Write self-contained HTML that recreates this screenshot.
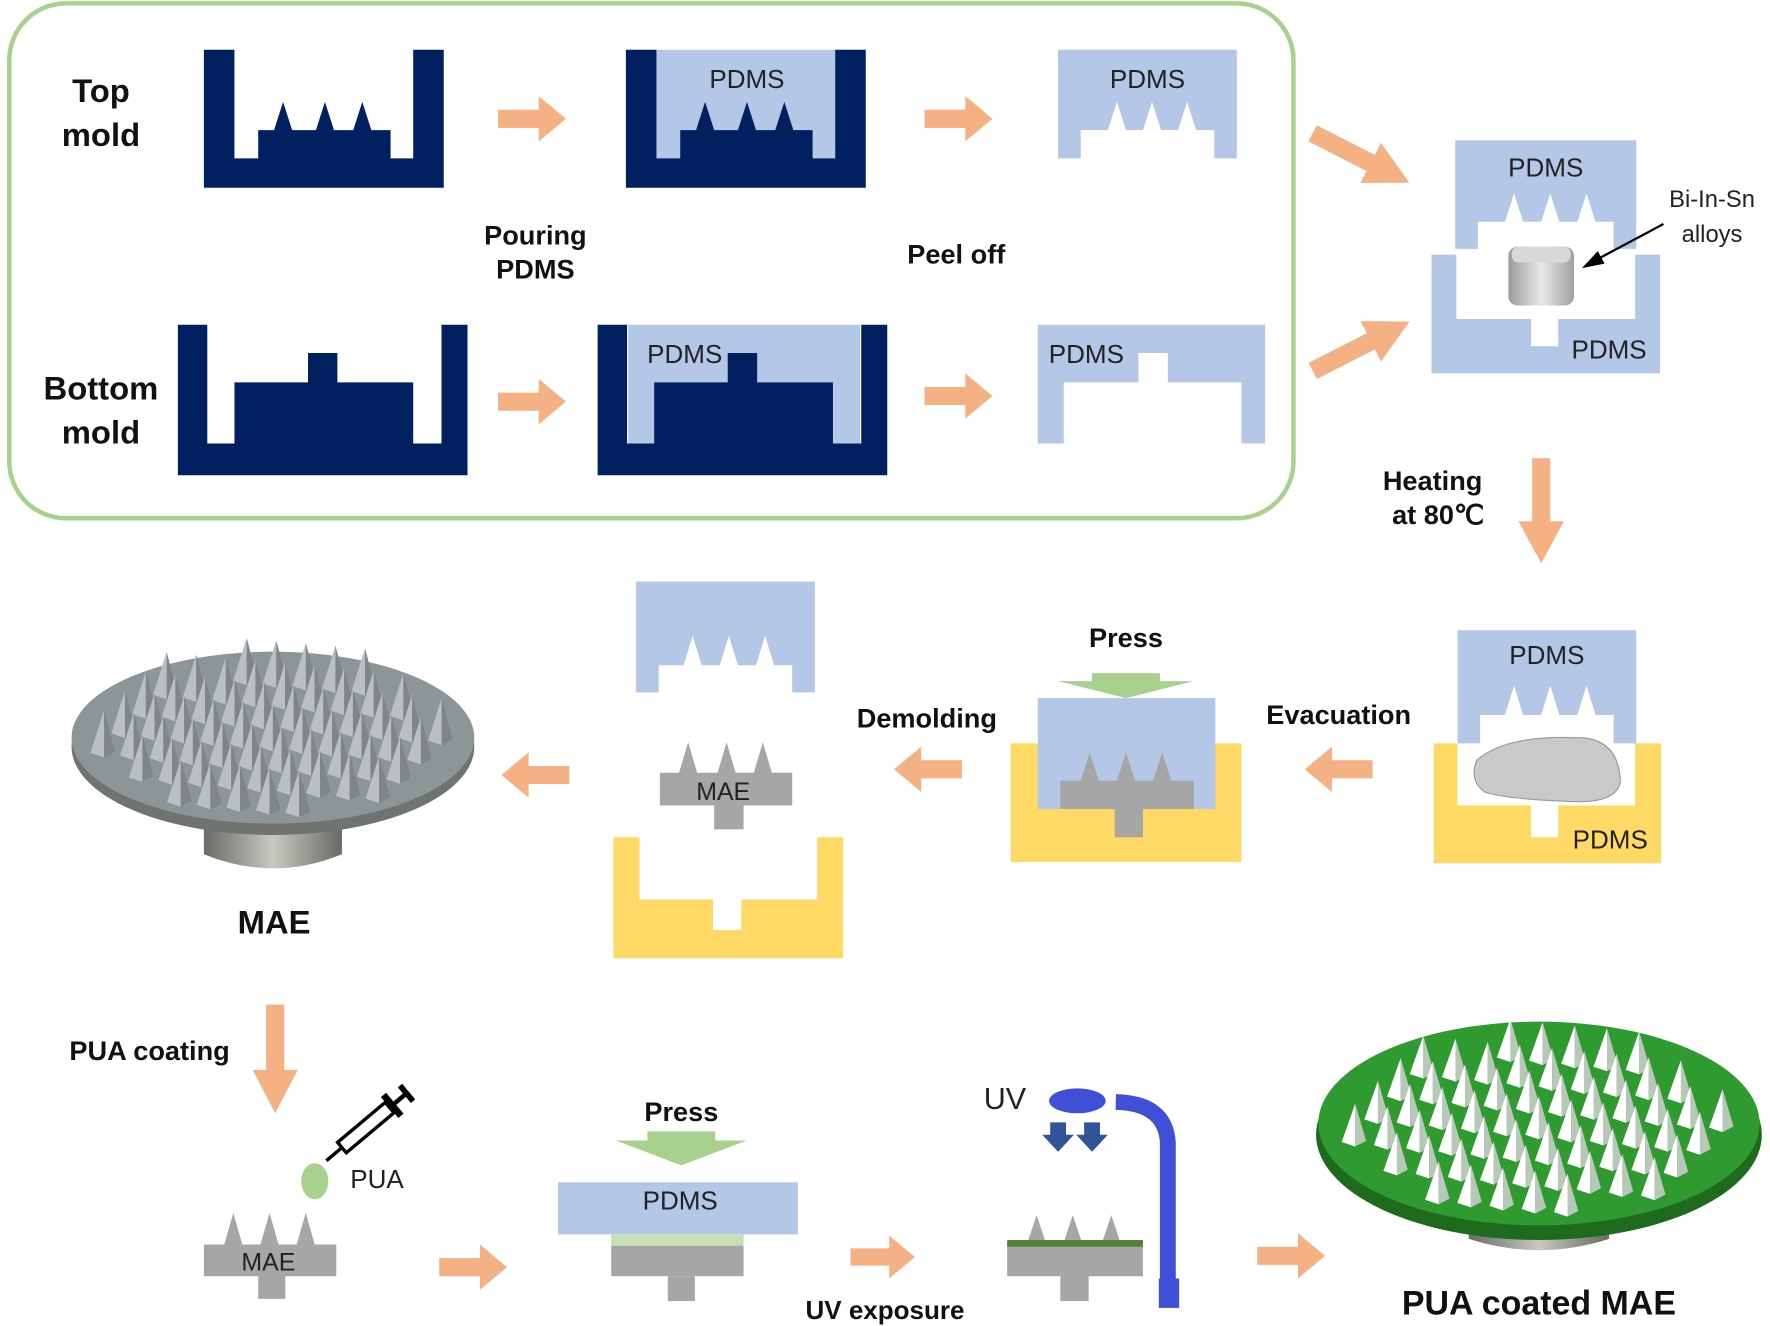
<!DOCTYPE html>
<html><head><meta charset="utf-8"><style>
html,body{margin:0;padding:0;background:#fff;}
svg{display:block;}
text{font-family:"Liberation Sans",sans-serif;}
.b{font-weight:bold;fill:#111;}
.p{fill:#222;font-size:23px;}
</style></head><body>
<svg id="s" width="1770" height="1326" viewBox="0 0 1564 1172" xmlns="http://www.w3.org/2000/svg">
<defs>
<symbol id="ar" viewBox="0 0 60 40" overflow="visible"><polygon points="0,12 36,12 36,0 60,20 36,40 36,28 0,28" fill="#f4b183"/></symbol>
<linearGradient id="cube" x1="0" x2="1"><stop offset="0" stop-color="#9a9a9a"/><stop offset="0.5" stop-color="#e8e8e8"/><stop offset="1" stop-color="#a0a0a0"/></linearGradient>
<linearGradient id="cyl" x1="0" x2="1"><stop offset="0" stop-color="#6a6a66"/><stop offset="0.5" stop-color="#c8c8c0"/><stop offset="1" stop-color="#6a6a66"/></linearGradient>
</defs>
<rect x="8" y="3" width="1135" height="455" rx="50" fill="none" stroke="#a9d18e" stroke-width="4"/>
<polygon fill="#002060" points="180,44 207,44 207,140 228,140 228,115 242,115 250,90 258,115 279,115 287,90 295,115 312,115 320,90 328,115 345,115 345,140 365,140 365,44 392,44 392,166 180,166"/>
<rect x="580" y="44" width="158" height="96" fill="#b4c7e7"/>
<polygon transform="translate(373,0)" fill="#002060" points="180,44 207,44 207,140 228,140 228,115 242,115 250,90 258,115 279,115 287,90 295,115 312,115 320,90 328,115 345,115 345,140 365,140 365,44 392,44 392,166 180,166"/>
<polygon fill="#b4c7e7" points="935,44 1093,44 1093,140 1073,140 1073,115 1057,115 1049,90 1041,115 1026,115 1018,90 1010,115 995,115 987,90 979,115 955,115 955,140 935,140"/>
<text x="660" y="78" class="p" text-anchor="middle">PDMS</text>
<text x="1014" y="78" class="p" text-anchor="middle">PDMS</text>
<polygon fill="#002060" points="157,287 183,287 183,392 207,392 207,338 272,338 272,312 298,312 298,338 365,338 365,392 390,392 390,287 413,287 413,420 157,420"/>
<rect x="555" y="287" width="205" height="105" fill="#b4c7e7"/>
<polygon transform="translate(371,0)" fill="#002060" points="157,287 183,287 183,392 207,392 207,338 272,338 272,312 298,312 298,338 365,338 365,392 390,392 390,287 413,287 413,420 157,420"/>
<polygon fill="#b4c7e7" points="917,287 1118,287 1118,392 1097,392 1097,338 1032,338 1032,312 1006,312 1006,338 940,338 940,392 917,392"/>
<text x="605" y="321" class="p" text-anchor="middle">PDMS</text>
<text x="960" y="321" class="p" text-anchor="middle">PDMS</text>
<text x="89" y="90" class="b" font-size="29" text-anchor="middle">Top</text>
<text x="89" y="129" class="b" font-size="29" text-anchor="middle">mold</text>
<text x="89" y="353" class="b" font-size="29" text-anchor="middle">Bottom</text>
<text x="89" y="392" class="b" font-size="29" text-anchor="middle">mold</text>
<text x="473" y="216" class="b" font-size="24" text-anchor="middle">Pouring</text>
<text x="473" y="246" class="b" font-size="24" text-anchor="middle">PDMS</text>
<text x="845" y="233" class="b" font-size="24" text-anchor="middle">Peel off</text>
<use href="#ar" x="440" y="85" width="60" height="40"/>
<use href="#ar" x="817" y="85" width="60" height="40"/>
<use href="#ar" x="440" y="335" width="60" height="40"/>
<use href="#ar" x="817" y="330" width="60" height="40"/>
<use href="#ar" x="0" y="0" width="60" height="40" transform="translate(1169,100) rotate(27) scale(1.6,1)"/>
<use href="#ar" x="0" y="0" width="60" height="40" transform="translate(1151,310) rotate(-27) scale(1.6,1)"/>
<polygon fill="#b4c7e7" points="1286,124 1446,124 1446,220 1426,220 1426,196 1410,196 1402,171 1394,196 1378,196 1370,171 1362,196 1346,196 1338,171 1330,196 1306,196 1306,220 1286,220"/>
<polygon fill="#b4c7e7" points="1265,225 1287,225 1287,282 1353,282 1353,306 1377,306 1377,282 1445,282 1445,225 1467,225 1467,330 1265,330"/>
<rect x="1333" y="218" width="58" height="52" rx="8" fill="url(#cube)"/>
<rect x="1336" y="218" width="52" height="14" rx="6" fill="#d8d8d8"/>
<text x="1366" y="156" class="p" text-anchor="middle">PDMS</text>
<text x="1422" y="317" class="p" text-anchor="middle">PDMS</text>
<text x="1513" y="183" font-size="21" fill="#222" text-anchor="middle">Bi-In-Sn</text>
<text x="1513" y="214" font-size="21" fill="#222" text-anchor="middle">alloys</text>
<line x1="1470" y1="198" x2="1410" y2="230" stroke="#000" stroke-width="2"/>
<polygon points="1398,237 1412,222 1418,233" fill="#000"/>
<use href="#ar" x="0" y="0" width="60" height="40" transform="translate(1382,405) rotate(90) scale(1.55,1)"/>
<text x="1266" y="433" class="b" font-size="24" text-anchor="middle">Heating</text>
<text x="1271" y="463" class="b" font-size="24" text-anchor="middle">at 80℃</text>
<polygon fill="#b4c7e7" points="1288,557 1446,557 1446,657 1426,657 1426,632 1410,632 1402,606 1394,632 1378,632 1370,606 1362,632 1346,632 1338,606 1330,632 1308,632 1308,657 1288,657"/>
<polygon fill="#ffd966" points="1267,657 1288,657 1288,712 1353,712 1353,740 1377,740 1377,712 1445,712 1445,657 1468,657 1468,763 1267,763"/>
<path d="M1305,672 Q1330,650 1390,652 Q1430,650 1432,690 Q1430,712 1380,708 Q1330,706 1312,700 Q1298,690 1305,672Z" fill="#c9c9c9" stroke="#999"/>
<text x="1367" y="587" class="p" text-anchor="middle">PDMS</text>
<text x="1423" y="750" class="p" text-anchor="middle">PDMS</text>
<use href="#ar" x="0" y="0" width="60" height="40" transform="translate(1213,700) rotate(180)"/>
<text x="1183" y="640" class="b" font-size="24" text-anchor="middle">Evacuation</text>
<rect x="893" y="657" width="204" height="105" fill="#ffd966"/>
<rect x="917" y="617" width="157" height="98" fill="#b4c7e7"/>
<polygon fill="#a6a6a6" points="937,715 937,690 955,690 963,665 971,690 987,690 995,665 1003,690 1019,690 1027,665 1035,690 1055,690 1055,715 1010,715 1010,740 985,740 985,715"/>
<polygon fill="#a9d18e" points="965,595 1025,595 1025,602 1055,602 995,617 935,602 965,602"/>
<text x="995" y="572" class="b" font-size="24" text-anchor="middle">Press</text>
<use href="#ar" x="0" y="0" width="60" height="40" transform="translate(850,700) rotate(180)"/>
<text x="819" y="643" class="b" font-size="24" text-anchor="middle">Demolding</text>
<polygon fill="#b4c7e7" points="562,514 720,514 720,612 700,612 700,588 684,588 676,562 668,588 652,588 644,562 636,588 620,588 612,562 604,588 582,588 582,612 562,612"/>
<polygon fill="#a6a6a6" points="583,712 583,683 600,683 608,656 616,683 634,683 642,656 650,683 666,683 674,656 682,683 700,683 700,712 657,712 657,733 631,733 631,712"/>
<text x="639" y="707" font-size="22" fill="#222" text-anchor="middle">MAE</text>
<polygon fill="#ffd966" points="542,740 565,740 565,795 630,795 630,822 655,822 655,795 722,795 722,740 745,740 745,847 542,847"/>
<use href="#ar" x="0" y="0" width="60" height="40" transform="translate(503,705) rotate(180)"/>
<path d="M180,720 L180,755 Q241,780 302,755 L302,720Z" fill="url(#cyl)"/>
<ellipse cx="241" cy="660" rx="178" ry="78" fill="#6f7470"/>
<ellipse cx="241" cy="652" rx="178" ry="76" fill="#8c9696"/>
<g id="g1"></g>
<text x="242" y="825" class="b" font-size="29" text-anchor="middle">MAE</text>
<use href="#ar" x="0" y="0" width="60" height="40" transform="translate(263,888) rotate(90) scale(1.6,1)"/>
<text x="132" y="937" class="b" font-size="24" text-anchor="middle">PUA coating</text>
<g transform="translate(325,995) rotate(-40)"><rect x="-30" y="-6" width="55" height="12" fill="#fff" stroke="#000" stroke-width="3"/><line x1="-30" y1="0" x2="-48" y2="0" stroke="#000" stroke-width="3"/><rect x="25" y="-12" width="6" height="24" fill="#000"/><line x1="31" y1="0" x2="44" y2="0" stroke="#000" stroke-width="4"/><rect x="42" y="-9" width="5" height="18" fill="#000"/></g>
<ellipse cx="278" cy="1044" rx="12" ry="16" fill="#a9d18e"/>
<text x="333" y="1050" font-size="23" fill="#222" text-anchor="middle">PUA</text>
<polygon fill="#a6a6a6" points="180,1128 180,1100 198,1100 206,1072 214,1100 230,1100 238,1072 246,1100 262,1100 270,1072 278,1100 297,1100 297,1128 252,1128 252,1148 228,1148 228,1128"/>
<text x="237" y="1123" font-size="22" fill="#222" text-anchor="middle">MAE</text>
<use href="#ar" x="388" y="1100" width="60" height="40"/>
<polygon fill="#a9d18e" points="572,1000 632,1000 632,1008 660,1008 602,1030 544,1008 572,1008"/>
<text x="602" y="991" class="b" font-size="24" text-anchor="middle">Press</text>
<rect x="493" y="1045" width="212" height="46" fill="#b4c7e7"/>
<text x="601" y="1069" class="p" text-anchor="middle">PDMS</text>
<rect x="540" y="1091" width="117" height="10" fill="#c5e0b4"/>
<rect x="540" y="1101" width="117" height="27" fill="#a6a6a6"/>
<rect x="590" y="1128" width="24" height="22" fill="#a6a6a6"/>
<use href="#ar" x="750" y="1092" width="60" height="38"/>
<text x="782" y="1166" class="b" font-size="23" text-anchor="middle">UV exposure</text>
<polygon fill="#a6a6a6" points="890,1128 890,1098 908,1098 916,1074 924,1098 940,1098 948,1074 956,1098 974,1098 982,1074 990,1098 1010,1098 1010,1128 962,1128 962,1150 937,1150 937,1128"/>
<rect x="890" y="1096" width="120" height="6" fill="#548235"/>
<text x="888" y="980" font-size="27" fill="#222" text-anchor="middle">UV</text>
<ellipse cx="952" cy="973" rx="25" ry="11" fill="#3f4fd6"/>
<polygon fill="#2f5597" points="928,992 942,992 942,1003 949,1003 935,1018 921,1003 928,1003"/>
<polygon fill="#2f5597" points="958,992 972,992 972,1003 979,1003 965,1018 951,1003 958,1003"/>
<path d="M986,974 Q1030,975 1032,1010 L1032,1150" fill="none" stroke="#3f4fd6" stroke-width="14"/>
<rect x="1024" y="1130" width="18" height="26" fill="#3f4fd6"/>
<use href="#ar" x="1110" y="1090" width="62" height="40"/>
<path d="M1298,1050 L1298,1095 Q1360,1115 1422,1095 L1422,1050Z" fill="url(#cyl)"/>
<ellipse cx="1360" cy="1003" rx="197" ry="93" fill="#1e6b1e"/>
<ellipse cx="1360" cy="993" rx="195" ry="90" fill="#2f9a2f"/>
<g id="g2"></g>
<text x="1360" y="1162" class="b" font-size="30" text-anchor="middle">PUA coated MAE</text>
</svg>
<script>
function spikes(id,cx,cy,rx,ry,fill,shade,h,w){
 var g=document.getElementById(id),s='';
 for(var r=-3;r<=3;r++)for(var c=-6;c<=6;c++){
  var x=cx+c*rx/6.5+r*rx/22, y=cy+r*ry/3.6+c*ry/30;
  var dx=(x-cx)/rx, dy=(y-cy)/ry; if(dx*dx+dy*dy>0.8) continue;
  s+='<polygon points="'+(x-w)+','+y+' '+x+','+(y-h)+' '+x+','+(y+4)+'" fill="'+fill+'"/>';
  s+='<polygon points="'+x+','+(y+4)+' '+x+','+(y-h)+' '+(x+w*0.8)+','+(y-1)+'" fill="'+shade+'"/>';
 }
 g.innerHTML=s;
}
spikes('g1',241,660,170,70,'#b9bfc4','#7f8588',38,12);
spikes('g2',1360,1003,185,82,'#ffffff','#b8c8b8',34,12);
</script>
</body></html>
